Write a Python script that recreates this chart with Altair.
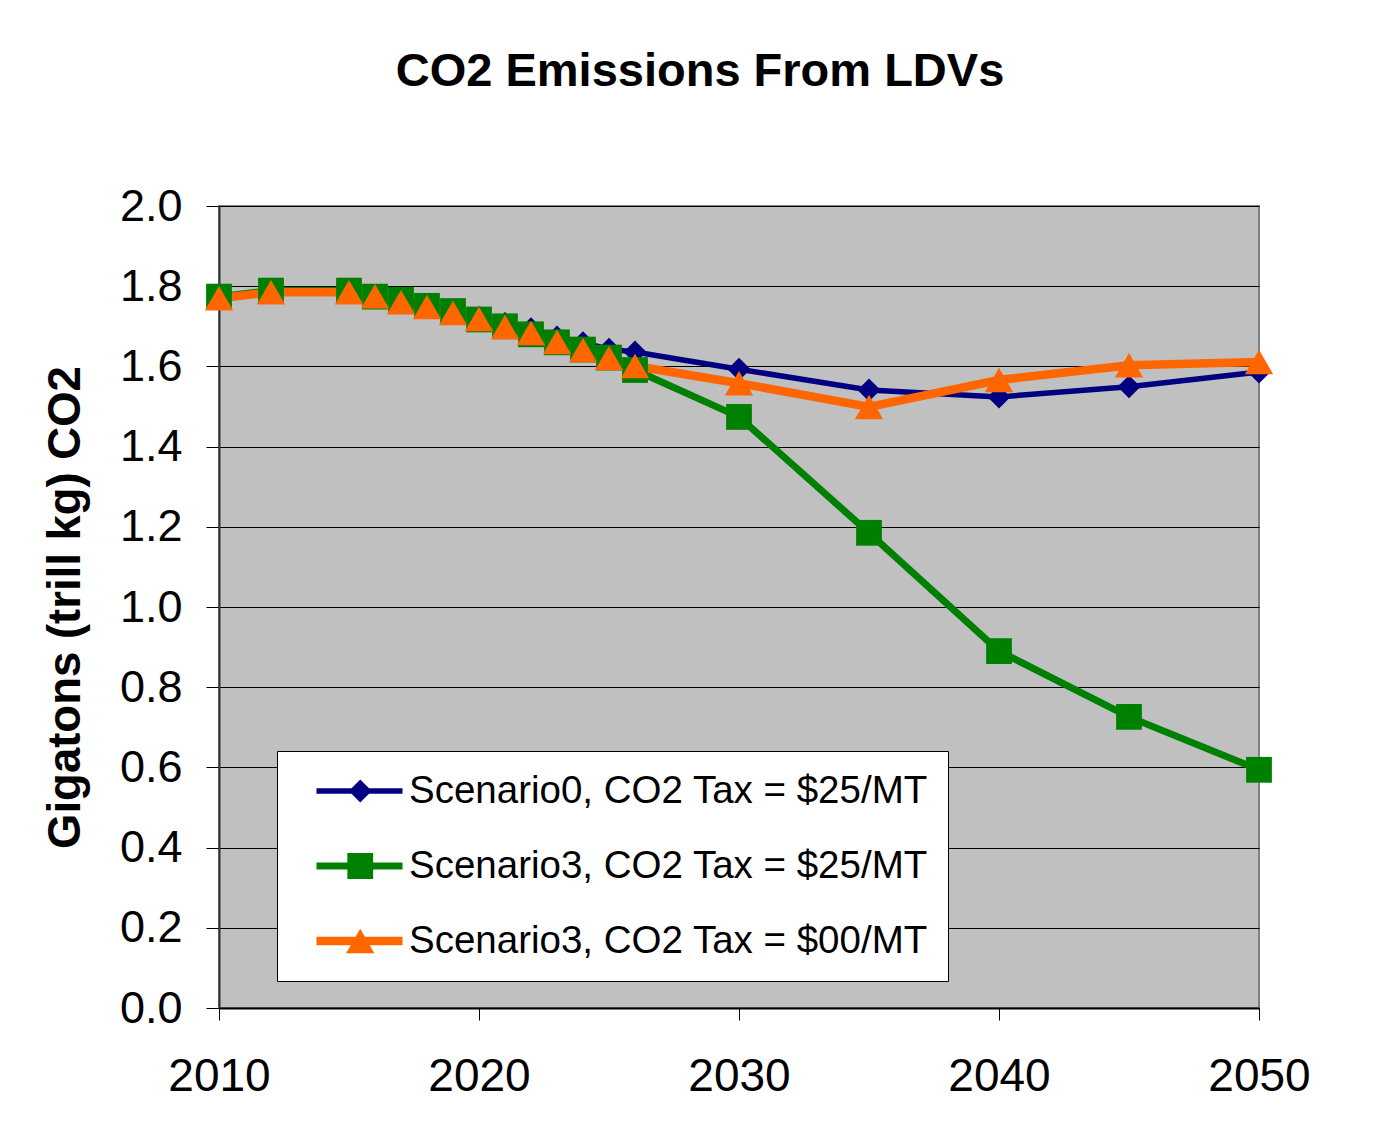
import altair as alt
import pandas as pd

years = [2010, 2012, 2015, 2016, 2017, 2018, 2019, 2020, 2021, 2022, 2023, 2024,
         2025, 2026, 2030, 2035, 2040, 2045, 2050]

s0_tax25 = [1.772, 1.786, 1.786, 1.776, 1.764, 1.752, 1.738, 1.722, 1.707, 1.694,
            1.673, 1.659, 1.643, 1.636, 1.593, 1.541, 1.524, 1.549, 1.586]
s3_tax25 = [1.774, 1.789, 1.789, 1.774, 1.766, 1.751, 1.738, 1.717, 1.700, 1.680,
            1.660, 1.642, 1.622, 1.591, 1.474, 1.185, 0.890, 0.726, 0.594]
s3_tax00 = [1.770, 1.785, 1.785, 1.775, 1.760, 1.748, 1.733, 1.718, 1.698, 1.683,
            1.661, 1.641, 1.621, 1.601, 1.558, 1.499, 1.566, 1.603, 1.611]

series_names = ["Scenario0, CO2 Tax = $25/MT",
                "Scenario3, CO2 Tax = $25/MT",
                "Scenario3, CO2 Tax = $00/MT"]
series_codes = ["s0_25", "s3_25", "s3_00"]
colors = ["#000080", "#008000", "#FF6600"]
shapes = ["diamond", "square", "triangle-up"]
line_widths = [5.5, 8.5, 8.5]
marker_sizes = [530, 800, 760]

x_ticks = [2010, 2020, 2030, 2040, 2050]
y_ticks = [0.0, 0.2, 0.4, 0.6, 0.8, 1.0, 1.2, 1.4, 1.6, 1.8, 2.0]

rows = []
for name, code, vals in zip(series_names, series_codes, [s0_tax25, s3_tax25, s3_tax00]):
    for yr, v in zip(years, vals):
        rows.append({"year": yr, "value": v, "series": name, "code": code})
df = pd.DataFrame(rows)

FONT = "Liberation Sans"

x_enc = alt.X(
    "year:Q",
    scale=alt.Scale(domain=[2010, 2050], nice=False, zero=False),
    axis=alt.Axis(values=x_ticks, format="d", title=None, grid=False,
                  tickSize=12, labelFontSize=46, labelPadding=34,
                  labelFont=FONT, labelColor="black", labelFlush=False,
                  domainColor="black", domainWidth=2, tickColor="black",
                  tickWidth=1),
)
y_enc = alt.Y(
    "value:Q",
    scale=alt.Scale(domain=[0, 2], nice=False),
    axis=alt.Axis(values=y_ticks, format=".1f", title="Gigatons (trill kg) CO2",
                  tickSize=13, labelFontSize=45, labelPadding=24,
                  labelFont=FONT, labelColor="black",
                  titleFont=FONT, titleFontSize=45.5, titleFontWeight="bold",
                  titleColor="black", titlePadding=30,
                  grid=True, gridColor="black", gridWidth=1,
                  domainColor="#333333", domainWidth=2, tickColor="black",
                  tickWidth=1),
)

line_legend = alt.Legend(
    title=None, orient="none", legendX=58, legendY=545,
    symbolType="stroke", symbolSize=7396, labelFontSize=38.5, labelFont=FONT,
    labelColor="black", labelLimit=1000, labelOffset=2,
    fillColor="white", strokeColor="black", padding=20, rowPadding=35,
    clipHeight=40, symbolOffset=15,
)
point_legend = alt.Legend(
    title=None, orient="none", legendX=58, legendY=545,
    labelFontSize=38.5, labelFont=FONT, labelExpr="''", labelLimit=1000,
    labelOffset=2, padding=20, rowPadding=35, clipHeight=40, symbolOffset=44,
    symbolStrokeWidth=0,
)

lines = alt.Chart(df).mark_line().encode(
    x=x_enc,
    y=y_enc,
    stroke=alt.Stroke("series:N", scale=alt.Scale(domain=series_names, range=colors),
                      legend=line_legend),
    strokeWidth=alt.StrokeWidth("series:N",
                                scale=alt.Scale(domain=series_names, range=line_widths),
                                legend=line_legend),
)

points = alt.Chart(df).mark_point(filled=True, opacity=1).encode(
    x=x_enc,
    y=y_enc,
    fill=alt.Fill("code:N", scale=alt.Scale(domain=series_codes, range=colors),
                  legend=point_legend),
    shape=alt.Shape("code:N", scale=alt.Scale(domain=series_codes, range=shapes),
                    legend=point_legend),
    size=alt.Size("code:N", scale=alt.Scale(domain=series_codes, range=marker_sizes),
                  legend=point_legend),
)

chart = alt.layer(lines, points).properties(
    width=1040,
    height=802,
    title=alt.Title("CO2 Emissions From LDVs", fontSize=47, font=FONT,
                    fontWeight="bold", color="black", anchor="middle", dx=-39,
                    offset=88),
    padding={"left": 35, "top": 40, "right": 20, "bottom": 10},
    background="white",
).configure_view(
    fill="#C0C0C0", stroke="#808080", strokeWidth=2
)

chart.save("out.html", embed_options={"renderer": "svg", "actions": False})
